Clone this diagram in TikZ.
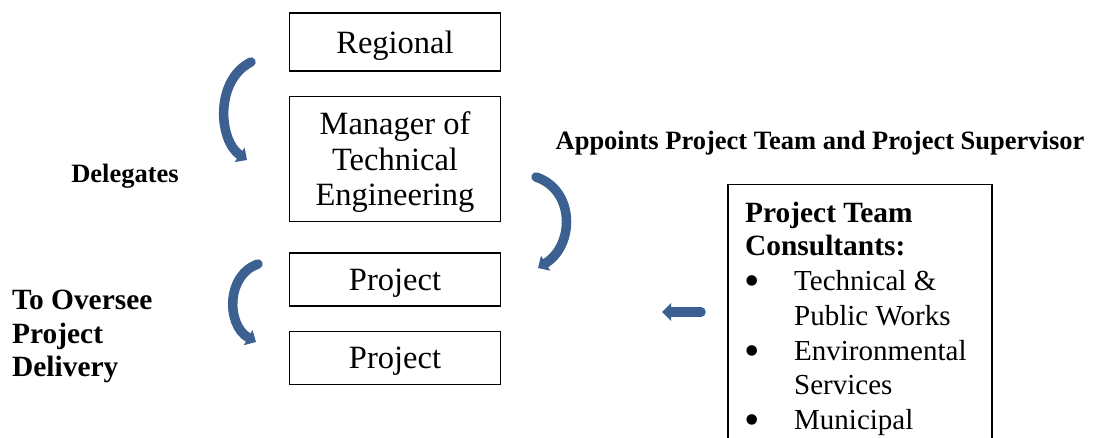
\documentclass[tikz,border=0pt]{standalone}
\usepackage{fontspec}
\newfontfamily\timesfam{Liberation Serif}
\usetikzlibrary{arrows.meta,calc}
\definecolor{flowblue}{RGB}{59,96,145}
\begin{document}
\begin{tikzpicture}[x=1pt,y=-1pt,
  box/.style={draw, line width=1.5pt, inner sep=0pt, minimum width=211pt,
    font=\timesfam\fontsize{32.5}{35.5}\selectfont, align=center, text depth=0pt},
  flow/.style={draw=flowblue, line width=9.5pt, line cap=round,
    -{Triangle[width=17pt,length=9pt]}},
  lbl/.style={font=\timesfam\bfseries\fontsize{26.5}{30}\selectfont, anchor=base, inner sep=0pt},
  bigbold/.style={font=\timesfam\bfseries\fontsize{29.4}{33.5}\selectfont, inner sep=0pt},
  item/.style={font=\timesfam\fontsize{29}{33}\selectfont, anchor=base west, inner sep=0pt},
  dot/.style={font=\timesfam\fontsize{44}{44}\selectfont, anchor=base, inner sep=0pt}
]
\clip (0,0) rectangle (1094,438);

% hierarchy boxes
\node[box, minimum height=58pt]  (reg)   at (395,42)    {Regional};
\node[box, minimum height=125pt] (mgr)   at (395,159)   {Manager of\\Technical\\Engineering};
\node[box, minimum height=53pt]  (proj1) at (395,279.5) {Project};
\node[box, minimum height=53pt]  (proj2) at (395,358)   {Project};

% consultants box (runs past the lower edge)
\node[draw, line width=1.5pt, inner sep=0pt, minimum width=264pt, minimum height=300pt,
  anchor=north west] (team) at (727,184) {};
\node[bigbold, anchor=base west] (th1) at (745,223) {Project Team};
\node[bigbold, anchor=base west] (th2) at (745,255) {Consultants:};
\node[dot]  (b1) at (752,295) {•};
\node[item] (i1) at (794,290) {Technical \&};
\node[item] (i2) at (794,325) {Public Works};
\node[dot]  (b2) at (752,365) {•};
\node[item] (i3) at (794,360) {Environmental};
\node[item] (i4) at (794,394) {Services};
\node[dot]  (b3) at (752,434) {•};
\node[item] (i5) at (794,429) {Municipal};

% labels
\node[lbl] (deleg) at (125,183) {Delegates};
\node[lbl] (appt)  at (820,150) {Appoints Project Team and Project Supervisor};
\node[bigbold, align=left, anchor=north west] (overs) at (12,290) {To Oversee\\Project\\Delivery};

% curved arrows
\coordinate (d1) at (251,62);  \coordinate (d2) at (247,160);
\coordinate (m1) at (536,177); \coordinate (m2) at (538,268);
\coordinate (p1) at (258,264); \coordinate (p2) at (256,342);
\coordinate (t1) at (701,312); \coordinate (t2) at (662,312);
\draw[flow] (d1) .. controls (215,80) and (218,140) .. (d2);
\draw[flow] (m1) .. controls (575,190) and (575,245) .. (m2);
\draw[flow] (p1) .. controls (226,275) and (226,325) .. (p2);
\draw[flow] (t1) -- (t2);
\end{tikzpicture}
\end{document}
